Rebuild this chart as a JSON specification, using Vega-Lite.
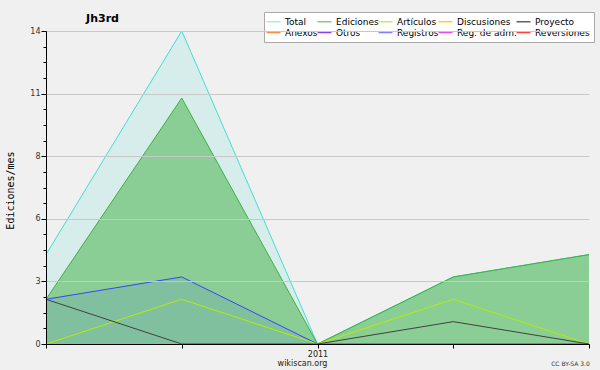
{
  "$schema": "https://vega.github.io/schema/vega-lite/v6.json",
  "autosize": {"type": "none"},
  "padding": {"left": 46, "top": 31, "right": 11, "bottom": 26},
  "width": 543,
  "height": 313,
  "background": "#f0f0f0",
  "datasets": {
    "ediciones": [
      {"mes": "2010-11", "serie": "Total", "valor": 4},
      {"mes": "2010-12", "serie": "Total", "valor": 14},
      {"mes": "2011-01", "serie": "Total", "valor": 0},
      {"mes": "2011-02", "serie": "Total", "valor": 3},
      {"mes": "2011-03", "serie": "Total", "valor": 4},
      {"mes": "2010-11", "serie": "Ediciones", "valor": 2},
      {"mes": "2010-12", "serie": "Ediciones", "valor": 11},
      {"mes": "2011-01", "serie": "Ediciones", "valor": 0},
      {"mes": "2011-02", "serie": "Ediciones", "valor": 3},
      {"mes": "2011-03", "serie": "Ediciones", "valor": 4},
      {"mes": "2010-11", "serie": "Registros", "valor": 2},
      {"mes": "2010-12", "serie": "Registros", "valor": 3},
      {"mes": "2011-01", "serie": "Registros", "valor": 0},
      {"mes": "2011-02", "serie": "Registros", "valor": 0},
      {"mes": "2011-03", "serie": "Registros", "valor": 0},
      {"mes": "2010-11", "serie": "Artículos", "valor": 0},
      {"mes": "2010-12", "serie": "Artículos", "valor": 2},
      {"mes": "2011-01", "serie": "Artículos", "valor": 0},
      {"mes": "2011-02", "serie": "Artículos", "valor": 2},
      {"mes": "2011-03", "serie": "Artículos", "valor": 0},
      {"mes": "2010-11", "serie": "Proyecto", "valor": 2},
      {"mes": "2010-12", "serie": "Proyecto", "valor": 0},
      {"mes": "2011-01", "serie": "Proyecto", "valor": 0},
      {"mes": "2011-02", "serie": "Proyecto", "valor": 1},
      {"mes": "2011-03", "serie": "Proyecto", "valor": 0}
    ],
    "series": [
      {"serie": "Total"}, {"serie": "Ediciones"}, {"serie": "Artículos"}, {"serie": "Discusiones"}, {"serie": "Proyecto"},
      {"serie": "Anexos"}, {"serie": "Otros"}, {"serie": "Registros"}, {"serie": "Reg. de adm."}, {"serie": "Reversiones"}
    ]
  },
  "layer": [
    {
      "encoding": {
        "x": {
          "field": "mes", "type": "ordinal",
          "scale": {"type": "point", "padding": 0},
          "axis": {
            "labelExpr": "datum.value == '2011-01' ? '2011' : ''",
            "labelAngle": 0, "labelFont": "DejaVu Sans", "labelFontSize": 8, "labelColor": "#222", "labelPadding": 2,
            "tickSize": 4, "tickColor": "#000", "domainColor": "#000", "grid": false, "zindex": 1,
            "title": "wikiscan.org", "titleFont": "DejaVu Sans", "titleFontSize": 8, "titleFontWeight": "normal", "titleColor": "#222",
            "titleX": 256, "titlePadding": 1
          }
        },
        "y": {
          "field": "valor", "type": "quantitative",
          "scale": {"domain": [0, 14], "nice": false},
          "axis": {
            "values": [0, 0.7, 1.4, 2.1, 2.8, 3.5, 4.2, 4.9, 5.6, 6.3, 7, 7.7, 8.4, 9.1, 9.8, 10.5, 11.2, 11.9, 12.6, 13.3, 14],
            "labelExpr": "abs(datum.value/2.8 - round(datum.value/2.8)) < 0.001 ? format(round(datum.value), 'd') : ''",
            "labelOverlap": false, "labelFlush": false,
            "labelFont": "DejaVu Sans", "labelFontSize": 8, "labelColor": "#333", "labelPadding": 1,
            "tickColor": "#000", "domainColor": "#000", "zindex": 1,
            "tickSize": {"condition": {"test": "abs(datum.value/2.8 - round(datum.value/2.8)) < 0.001", "value": 5}, "value": 3},
            "grid": true, "gridColor": "#c8c8c8",
            "gridOpacity": {"condition": {"test": "abs(datum.value/2.8 - round(datum.value/2.8)) < 0.001", "value": 1}, "value": 0},
            "title": "Ediciones/mes", "titleFont": "DejaVu Sans Mono", "titleFontSize": 10, "titleFontWeight": "normal", "titleColor": "#000",
            "titleX": -36, "titleY": 159, "titleBaseline": "middle"
          }
        }
      },
      "layer": [
        {
          "data": {"name": "ediciones"},
          "transform": [{"filter": "datum.serie == 'Total'"}],
          "mark": {"type": "area", "color": "#40e0d0", "opacity": 0.15, "line": {"color": "#40e0d0", "strokeWidth": 1, "opacity": 1}}
        },
        {
          "data": {"name": "ediciones"},
          "transform": [{"filter": "datum.serie == 'Ediciones'"}],
          "mark": {"type": "area", "color": "#40b040", "opacity": 0.5, "line": {"color": "#40b040", "strokeWidth": 1, "opacity": 1}}
        },
        {
          "data": {"name": "ediciones"},
          "transform": [{"filter": "datum.serie == 'Registros'"}],
          "mark": {"type": "area", "color": "#3344ff", "opacity": 0.1, "line": {"color": "#3344ff", "strokeWidth": 1, "opacity": 1}}
        },
        {
          "data": {"name": "ediciones"},
          "transform": [{"filter": "datum.serie == 'Artículos'"}],
          "mark": {"type": "line", "color": "#b0f000", "strokeWidth": 1}
        },
        {
          "data": {"name": "ediciones"},
          "transform": [{"filter": "datum.serie == 'Proyecto'"}],
          "mark": {"type": "line", "color": "#404040", "strokeWidth": 1}
        }
      ]
    },
    {
      "data": {"name": "series"},
      "mark": {"type": "point", "filled": false, "size": 0},
      "encoding": {
        "x": {
          "field": "serie", "type": "nominal",
          "axis": {"orient": "top", "labels": false, "ticks": false, "domain": false, "grid": false,
            "title": "Jh3rd", "titleX": 56, "titleY": -10, "titleAlign": "center", "titleBaseline": "alphabetic",
            "titleFont": "DejaVu Sans", "titleFontSize": 11, "titleFontWeight": "bold", "titleColor": "#000"}
        },
        "y": {
          "field": "serie", "type": "nominal",
          "axis": {"orient": "right", "labels": false, "ticks": false, "domain": false, "grid": false,
            "title": "CC BY-SA 3.0", "titleAngle": 0, "titleX": -19, "titleY": 332, "titleAlign": "center", "titleBaseline": "middle",
            "titleFont": "DejaVu Sans", "titleFontSize": 6, "titleFontWeight": "normal", "titleColor": "#333"}
        },
        "color": {
          "field": "serie", "type": "nominal",
          "scale": {
            "domain": ["Total", "Ediciones", "Artículos", "Discusiones", "Proyecto", "Anexos", "Otros", "Registros", "Reg. de adm.", "Reversiones"],
            "range": ["#a0f0e8", "#80d080", "#c8f040", "#ffd030", "#606060", "#ff8c40", "#9040f0", "#8080ff", "#e050f0", "#ff4040"]
          },
          "legend": {
            "orient": "none", "legendX": 218, "legendY": -19, "columns": 5, "direction": "horizontal", "title": null,
            "symbolType": "M-1.55,0H1.55", "symbolSize": 81, "symbolStrokeWidth": 1.5, "symbolOpacity": 1,
            "labelFont": "DejaVu Sans", "labelFontSize": 9, "labelColor": "#000", "labelOffset": 6,
            "columnPadding": -4, "rowPadding": 0, "padding": 4,
            "fillColor": "#ffffff", "strokeColor": "#aaaaaa"
          }
        }
      }
    }
  ],
  "resolve": {"scale": {"x": "independent", "y": "independent"}},
  "config": {"view": {"stroke": null}}
}
